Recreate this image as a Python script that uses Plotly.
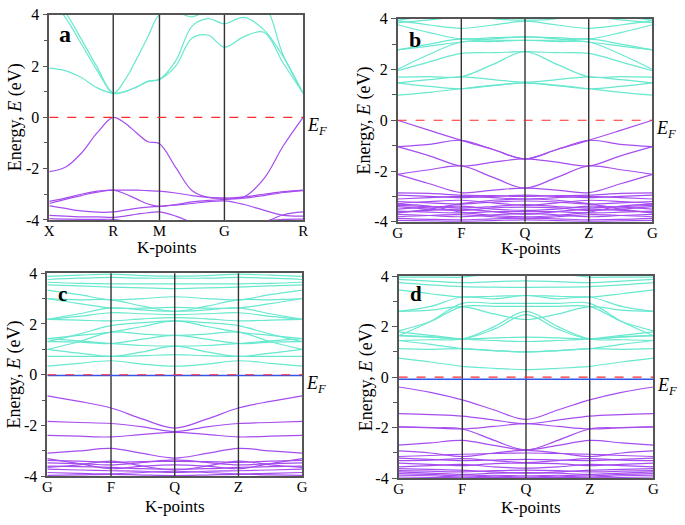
import numpy as np
import plotly.graph_objects as go

# ---------------- data ----------------
# Panel a: path X-R-M-G-R, k distances of the high-symmetry points
A_KSYM = [0, 65, 112, 178, 258]
A_KLAB = ["X", "R", "M", "G", "R"]
# energies on a grid of quarter points per segment (17 points)
A_COND = [
    [1.92, 1.82, 1.55, 1.15, 0.94, 1.00, 1.18, 1.40, 1.48, 2.00, 3.08, 3.20, 2.74, 3.15, 3.32, 2.10, 0.94],
    [4.60, 3.90, 2.87, 1.82, 0.94, 1.00, 1.18, 1.40, 1.48, 2.20, 3.55, 3.85, 3.65, 3.90, 3.42, 2.35, 0.94],
    [4.80, 4.10, 3.05, 1.95, 0.94, 1.45, 2.26, 3.14, 4.00, 4.10, 3.92, 4.20, 4.40, 4.60, 4.40, 2.40, 0.94],
]
A_VAL = [
    [-2.12, -1.95, -1.40, -0.60, 0.00, -0.22, -0.60, -0.95, -1.03, -1.95, -2.85, -3.12, -3.15, -3.10, -2.40, -1.10, 0.00],
    [-3.28, -3.15, -3.00, -2.88, -2.84, -2.84, -2.84, -2.86, -2.88, -2.95, -3.05, -3.12, -3.15, -3.10, -3.00, -2.90, -2.84],
    [-3.36, -3.20, -3.05, -2.92, -2.84, -2.98, -3.18, -3.38, -3.47, -3.40, -3.30, -3.24, -3.20, -3.15, -3.05, -2.93, -2.86],
    [-3.44, -3.55, -3.65, -3.70, -3.69, -3.62, -3.55, -3.50, -3.47, -3.42, -3.36, -3.29, -3.26, -3.40, -3.62, -3.82, -3.85],
    [-3.82, -3.85, -3.88, -3.88, -3.90, -3.85, -3.78, -3.72, -3.69, -3.85, -4.10, -4.30, -4.40, -4.30, -4.10, -3.80, -3.69],
    [-3.95, -3.97, -3.98, -3.98, -3.98, -4.05, -4.15, -4.25, -4.30, -4.40, -4.50, -4.50, -4.50, -4.30, -4.05, -3.98, -3.97],
]

# Panels b, c, d: path G-F-Q-Z-G (mirror symmetric about Q)
BCD_KSYM = [0, 1, 2, 3, 4]
BCD_KLAB = ["G", "F", "Q", "Z", "G"]
# energies at G, mid G-F, F, mid F-Q, Q (Z-G half is the mirror image)
B_COND = [
    [0.99, 1.10, 1.24, 1.38, 1.47], [1.47, 1.33, 1.24, 1.36, 1.47],
    [1.47, 1.60, 1.71, 1.60, 1.50], [1.70, 1.72, 1.71, 2.20, 2.70],
    [1.95, 2.30, 2.63, 2.66, 2.70], [2.00, 2.60, 3.08, 3.10, 3.15],
    [2.77, 2.92, 3.08, 3.20, 3.28], [2.77, 3.00, 3.20, 3.15, 3.15],
    [3.76, 3.45, 3.20, 3.25, 3.28], [3.92, 3.75, 3.62, 3.75, 3.90],
    [3.94, 4.10, 4.30, 4.00, 3.94], [3.84, 3.95, 4.10, 4.20, 4.30],
]
B_VAL = [
    [0.00, -0.40, -0.79, -1.15, -1.52], [-1.04, -0.95, -0.79, -1.15, -1.52],
    [-1.04, -1.40, -1.80, -1.65, -1.52], [-2.13, -1.95, -1.80, -2.25, -2.67],
    [-2.13, -2.50, -2.85, -2.75, -2.67],
    [-2.86, -2.88, -2.95, -2.97, -3.00], [-2.95, -3.00, -3.05, -3.00, -2.95],
    [-3.10, -3.05, -3.00, -3.05, -3.10], [-3.20, -3.25, -3.30, -3.22, -3.18],
    [-3.28, -3.20, -3.15, -3.25, -3.35], [-3.35, -3.40, -3.45, -3.40, -3.32],
    [-3.40, -3.50, -3.55, -3.45, -3.42], [-3.50, -3.42, -3.38, -3.50, -3.55],
    [-3.58, -3.62, -3.65, -3.60, -3.60], [-3.62, -3.55, -3.50, -3.60, -3.70],
    [-3.71, -3.75, -3.80, -3.72, -3.68], [-3.80, -3.75, -3.72, -3.80, -3.85],
    [-3.86, -3.90, -3.92, -3.88, -3.85], [-3.94, -3.96, -3.98, -3.95, -3.92],
    [-3.30, -3.38, -3.62, -3.75, -3.80], [-3.65, -3.50, -3.28, -3.15, -3.10],
]
C_COND = [
    [0.34, 0.45, 0.55, 0.42, 0.34], [0.72, 0.72, 0.72, 0.75, 0.79],
    [1.00, 0.85, 0.72, 0.90, 1.13], [1.30, 1.28, 1.23, 1.40, 1.55],
    [1.42, 1.33, 1.23, 1.15, 1.13], [1.42, 1.55, 1.68, 1.90, 2.12],
    [1.30, 1.60, 1.93, 2.05, 2.12], [2.18, 2.15, 2.12, 2.20, 2.25],
    [2.18, 2.30, 2.44, 2.40, 2.37], [1.00, 1.30, 1.68, 1.60, 1.55],
    [3.00, 2.80, 2.63, 2.62, 2.65], [3.00, 2.95, 2.95, 2.70, 2.50],
    [3.33, 3.15, 2.95, 3.00, 3.07], [3.54, 3.50, 3.45, 3.42, 3.39],
    [3.64, 3.60, 3.58, 3.58, 3.58], [3.75, 3.80, 3.83, 3.80, 3.80],
    [3.87, 3.92, 3.96, 3.90, 3.88], [2.18, 2.40, 2.63, 2.55, 2.50],
]
C_VAL = [
    [-0.83, -1.05, -1.31, -1.75, -2.10], [-1.84, -1.88, -1.92, -2.05, -2.24],
    [-2.39, -2.42, -2.45, -2.35, -2.27], [-3.09, -3.00, -2.90, -3.10, -3.28],
    [-3.37, -3.40, -3.45, -3.42, -3.41], [-3.47, -3.50, -3.55, -3.45, -3.35],
    [-3.60, -3.62, -3.65, -3.70, -3.72], [-3.72, -3.75, -3.78, -3.80, -3.85],
    [-3.85, -3.88, -3.90, -3.85, -3.80], [-3.96, -3.94, -3.92, -3.95, -3.97],
    [-3.30, -3.50, -3.70, -3.60, -3.55], [-3.65, -3.55, -3.40, -3.60, -3.75],
]
D_COND = [
    [0.75, 0.60, 0.43, 0.35, 0.30], [1.13, 1.10, 1.13, 1.05, 1.00],
    [1.45, 1.30, 1.13, 1.05, 1.00], [1.64, 1.58, 1.51, 1.55, 1.58],
    [1.79, 1.65, 1.51, 1.45, 1.41], [1.83, 2.20, 2.79, 2.80, 2.80],
    [1.64, 2.20, 2.92, 2.92, 2.92], [2.60, 2.80, 3.17, 3.10, 3.23],
    [1.45, 1.48, 1.51, 2.00, 2.60], [1.64, 1.60, 1.51, 1.90, 2.47],
    [3.45, 3.30, 3.17, 3.20, 3.23], [3.74, 3.65, 3.58, 3.56, 3.55],
    [3.87, 3.80, 3.74, 3.78, 3.81], [3.96, 3.96, 3.96, 4.10, 4.20],
    [2.60, 2.65, 2.79, 2.50, 2.28],
]
D_VAL = [
    [-0.39, -0.60, -0.90, -1.30, -1.67], [-1.44, -1.48, -1.54, -1.70, -1.84],
    [-1.97, -2.00, -2.05, -1.95, -1.84], [-1.97, -2.00, -2.05, -2.50, -2.88],
    [-2.69, -2.60, -2.50, -2.70, -2.88], [-2.92, -3.00, -3.14, -3.00, -2.90],
    [-3.14, -3.10, -3.05, -3.02, -3.00], [-3.20, -3.25, -3.30, -3.28, -3.25],
    [-3.30, -3.28, -3.22, -3.30, -3.38], [-3.40, -3.45, -3.50, -3.42, -3.40],
    [-3.55, -3.50, -3.45, -3.55, -3.60], [-3.70, -3.72, -3.75, -3.70, -3.68],
    [-3.75, -3.80, -3.85, -3.80, -3.78], [-3.82, -3.85, -3.90, -3.88, -3.90],
    [-3.88, -3.90, -3.95, -3.92, -3.95], [-3.95, -3.97, -3.98, -3.97, -3.98],
    [-3.62, -3.65, -3.68, -3.75, -3.80],
]
# level of the extra (blue) line near E_F in panels c and d
C_BLUE = -0.03
D_BLUE = -0.08

PANEL_LABELS = ["a", "b", "c", "d"]

# ---------------- styling ----------------
COND_COLOR = "#68e8cf"
VAL_COLOR = "#a64df0"
FONT = "Liberation Serif, Times New Roman, serif"

# panel domains (paper fractions): x domain, y domain
DOMAINS = [
    ([45 / 685, 303 / 685], [306 / 525, 518 / 525]),
    ([399 / 685, 658 / 685], [304 / 525, 514 / 525]),
    ([43 / 685, 302 / 685], [41 / 525, 251 / 525]),
    ([400 / 685, 659 / 685], [39 / 525, 248 / 525]),
]


def quarter_grid(ksym):
    pts = []
    for i in range(len(ksym) - 1):
        pts.extend(np.linspace(ksym[i], ksym[i + 1], 5)[:-1])
    pts.append(ksym[-1])
    return np.array(pts)


def half_grid(ksym):
    pts = []
    for i in range(len(ksym) - 1):
        pts.extend(np.linspace(ksym[i], ksym[i + 1], 3)[:-1])
    pts.append(ksym[-1])
    return np.array(pts)


def mirror(v):
    return list(v) + list(v[-2::-1])


fig = go.Figure()

panels = [
    (A_KSYM, A_KLAB, quarter_grid(A_KSYM), A_COND, A_VAL, False, None),
    (BCD_KSYM, BCD_KLAB, half_grid(BCD_KSYM), B_COND, B_VAL, True, None),
    (BCD_KSYM, BCD_KLAB, half_grid(BCD_KSYM), C_COND, C_VAL, True, C_BLUE),
    (BCD_KSYM, BCD_KLAB, half_grid(BCD_KSYM), D_COND, D_VAL, True, D_BLUE),
]

shapes = []
annotations = []
label_font = [24, 22, 21, 21]
label_pos = [(61, 27), (417, 33), (58, 296), (418, 296)]
ktitle_pos = [(165, 248), (535, 249), (173, 515), (535, 516)]
ytitle_x = [11, 365, 10, 367]

for i, (ksym, klab, grid, cond, val, sym, blue) in enumerate(panels):
    n = "" if i == 0 else str(i + 1)
    xa, ya = "x" + n, "y" + n
    for bands, col in ((val, VAL_COLOR), (cond, COND_COLOR)):
        for b in bands:
            yv = mirror(b) if sym else b
            fig.add_trace(go.Scatter(
                x=grid, y=yv, mode="lines", xaxis=xa, yaxis=ya,
                line=dict(color=col, width=1.2, shape="spline", smoothing=1.0),
                hoverinfo="skip", showlegend=False, cliponaxis=True))
    # high symmetry vertical lines
    for k in ksym[1:-1]:
        shapes.append(dict(type="line", xref=xa, yref=ya + " domain", x0=k, x1=k, y0=0, y1=1,
                           line=dict(color="#333333", width=1.4), layer="above"))
    if blue is not None:
        shapes.append(dict(type="line", xref=xa, yref=ya, x0=ksym[0], x1=ksym[-1], y0=blue, y1=blue,
                           line=dict(color="#3355ee", width=1.5), layer="above"))
    shapes.append(dict(type="line", xref=xa, yref=ya, x0=ksym[0], x1=ksym[-1], y0=0, y1=0,
                       line=dict(color="#ff2a2a", width=1.2, dash="dash"), layer="above"))
    xd, yd = DOMAINS[i]
    axx = dict(domain=xd, anchor=ya, range=[ksym[0], ksym[-1]], tickvals=ksym, ticktext=klab,
               showline=True, mirror=True, linecolor="#555555", linewidth=1.5, ticks="",
               ticklabelstandoff=-4,
               showgrid=False, zeroline=False, tickfont=dict(family=FONT, size=15, color="black"))
    axy = dict(domain=yd, anchor=xa, range=[-4, 4], tickvals=[-4, -2, 0, 2, 4],
               ticktext=["-4", "-2", "0", "2", "4"], showline=True, mirror=True,
               linecolor="#555555", linewidth=1.5, ticks="outside", ticklen=5, tickwidth=1.2,
               tickcolor="#555555", showgrid=False, zeroline=False,
               minor=dict(tickvals=[-3, -1, 1, 3], ticks="outside", ticklen=4, tickcolor="#555555"),
               tickfont=dict(family=FONT, size=16, color="black"))
    fig.update_layout(**{"xaxis" + n: axx, "yaxis" + n: axy})
    # E_F label
    annotations.append(dict(xref=xa + " domain", yref=ya, x=1.0, y=0, xanchor="left", yanchor="top",
                            xshift=2, yshift=4, showarrow=False,
                            text="<i>E</i><sub><i>F</i></sub>",
                            font=dict(family=FONT, size=18, color="black")))
    # panel letter
    lx, ly = label_pos[i]
    annotations.append(dict(xref="paper", yref="paper", x=lx / 685, y=1 - ly / 525,
                            xanchor="center", yanchor="middle", showarrow=False,
                            text="<b>" + PANEL_LABELS[i] + "</b>",
                            font=dict(family=FONT, size=label_font[i], color="black")))
    # axis titles
    tx, ty = ktitle_pos[i]
    annotations.append(dict(xref="paper", yref="paper", x=tx / 685, y=1 - ty / 525,
                            xanchor="center", yanchor="middle", showarrow=False, text="K-points",
                            font=dict(family=FONT, size=17, color="black")))
    annotations.append(dict(xref="paper", yref="paper", x=ytitle_x[i] / 685, y=(yd[0] + yd[1]) / 2,
                            xanchor="center", yanchor="middle", showarrow=False, textangle=-90,
                            text="Energy, <i>E</i> (eV)",
                            font=dict(family=FONT, size=18, color="black")))

fig.update_layout(width=685, height=525, margin=dict(l=0, r=0, t=0, b=0),
                  paper_bgcolor="white", plot_bgcolor="white",
                  shapes=shapes, annotations=annotations, showlegend=False,
                  font=dict(family=FONT, color="black"))

fig.write_html("out.html", config={"displayModeBar": False},
               post_script="document.body.style.margin='0';document.body.style.padding='0';")
